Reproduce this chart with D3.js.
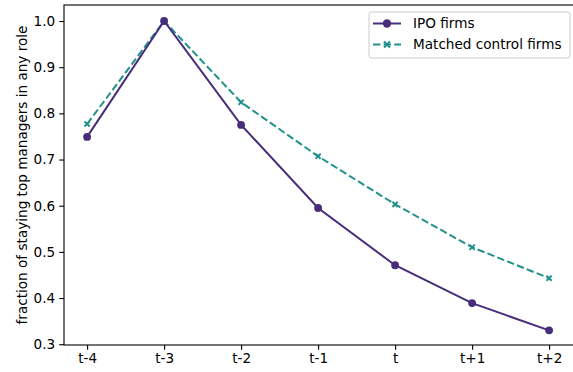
<!DOCTYPE html>
<html>
<head>
<meta charset="utf-8">
<script src="https://cdn.jsdelivr.net/npm/d3@7"></script>
<style>
  body { margin: 0; background: #fff; }
  svg { display: block; font-family: "DejaVu Sans", sans-serif; }
</style>
</head>
<body>
<div id="graf"></div>
<script>
// datos
periodos = ['t-4', 't-3', 't-2', 't-1', 't', 't+1', 't+2']
ipo      = [0.749, 1.0, 0.775, 0.595, 0.471, 0.389, 0.330]
control  = [0.777, 1.0, 0.824, 0.707, 0.603, 0.510, 0.443]
yTicks   = [0.3, 0.4, 0.5, 0.6, 0.7, 0.8, 0.9, 1.0]

ancho_total = 573
alto_total = 372
margins = { top: 5, left: 64, right: 0, bottom: 27 }
ancho = ancho_total - margins.left - margins.right
alto = alto_total - margins.top - margins.bottom
fs = 13.6

svg = d3.select('#graf').append('svg')
  .attr('width', ancho_total)
  .attr('height', alto_total)

g = svg.append('g')
  .attr('transform', `translate(${margins.left},${margins.top})`)

// escala x: pasos de 77px, medio paso a cada lado
x = d3.scalePoint().domain(periodos).range([23.1, 23.1 + 77 * 6])
y = d3.scaleLinear().domain([0.2983, 1.0347]).range([alto, 0])

// ejes
xAxis = g.append('g')
  .attr('transform', `translate(0,${alto})`)
  .call(d3.axisBottom(x).tickSize(4.8).tickPadding(4))
yAxis = g.append('g')
  .call(d3.axisLeft(y).tickValues(yTicks).tickFormat(d3.format('.1f')).tickSize(4.8).tickPadding(4))

;[xAxis, yAxis].forEach(a => {
  a.select('.domain').remove()
  a.selectAll('line').attr('stroke', '#000').attr('stroke-width', 1.1)
  a.selectAll('text').attr('font-size', fs).attr('fill', '#000').attr('font-family', 'DejaVu Sans')
})

// marco
g.append('rect')
  .attr('x', 0).attr('y', 0)
  .attr('width', ancho + 2).attr('height', alto)
  .attr('fill', 'none')
  .attr('stroke', '#000')
  .attr('stroke-width', 1.1)

// etiqueta eje y
svg.append('text')
  .attr('transform', `translate(27,${margins.top + alto / 2}) rotate(-90)`)
  .attr('text-anchor', 'middle')
  .attr('font-size', fs)
  .text('fraction of staying top managers in any role')

colIPO = '#472d7b'
colCtrl = '#21918c'

lineGen = d3.line()
  .x((d, i) => x(periodos[i]))
  .y(d => y(d))

// linea control (discontinua)
g.append('path')
  .attr('d', lineGen(control))
  .attr('fill', 'none')
  .attr('stroke', colCtrl)
  .attr('stroke-width', 2)
  .attr('stroke-dasharray', '7.4,3.2')

function cruz(sel, s) {
  sel.append('path')
    .attr('d', `M${-s},${-s}L${s},${s}M${-s},${s}L${s},${-s}`)
    .attr('stroke', colCtrl)
    .attr('stroke-width', 2)
    .attr('fill', 'none')
}

control.forEach((v, i) => {
  cruz(g.append('g').attr('transform', `translate(${x(periodos[i])},${y(v)})`), 2.6)
})

// linea IPO
g.append('path')
  .attr('d', lineGen(ipo))
  .attr('fill', 'none')
  .attr('stroke', colIPO)
  .attr('stroke-width', 2)

g.selectAll('.pIPO')
  .data(ipo)
  .join('circle')
  .attr('class', 'pIPO')
  .attr('cx', (d, i) => x(periodos[i]))
  .attr('cy', d => y(d))
  .attr('r', 3.9)
  .attr('fill', colIPO)

// leyenda
ley = svg.append('g').attr('transform', 'translate(369,12)')
ley.append('rect')
  .attr('width', 201).attr('height', 46)
  .attr('rx', 2.5)
  .attr('fill', '#fff')
  .attr('fill-opacity', 0.8)
  .attr('stroke', '#ccc')
  .attr('stroke-width', 1)

ley.append('line')
  .attr('x1', 4).attr('x2', 32).attr('y1', 11.5).attr('y2', 11.5)
  .attr('stroke', colIPO).attr('stroke-width', 2)
ley.append('circle').attr('cx', 18).attr('cy', 11.5).attr('r', 4.2).attr('fill', colIPO)
ley.append('text').attr('x', 44).attr('y', 16.2).attr('font-size', fs).text('IPO firms')

ley.append('line')
  .attr('x1', 4).attr('x2', 32).attr('y1', 32.5).attr('y2', 32.5)
  .attr('stroke', colCtrl).attr('stroke-width', 2)
  .attr('stroke-dasharray', '7.4,3.2')
cruz(ley.append('g').attr('transform', 'translate(18,32.5)'), 3)
ley.append('text').attr('x', 44).attr('y', 37.2).attr('font-size', fs).text('Matched control firms')
</script>
</body>
</html>
